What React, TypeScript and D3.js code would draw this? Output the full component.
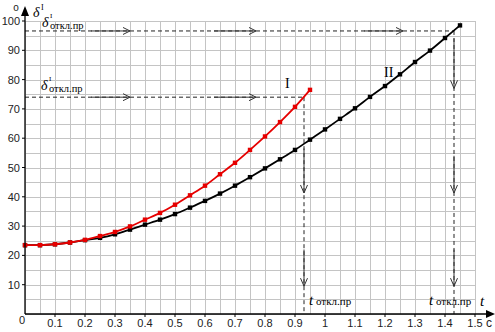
import React from "react";
import * as d3 from "d3";

// ---- data ----
const timeStep = 0.05;
const curveI: number[] = [23.5, 23.5, 23.8, 24.4, 25.3, 26.6, 28.0, 29.9, 32.2, 34.5, 37.3, 40.5, 43.8, 47.7, 51.6, 56.0, 60.6, 65.5, 70.7, 76.5];
const curveII: number[] = [23.5, 23.5, 23.8, 24.4, 25.2, 26.0, 27.2, 28.8, 30.5, 32.2, 34.1, 36.3, 38.6, 41.1, 43.8, 46.7, 49.7, 52.8, 56.0, 59.5, 63.0, 66.6, 70.2, 74.1, 77.8, 81.8, 86.0, 89.9, 94.2, 98.5];
const xTickValues: number[] = [0.1, 0.2, 0.3, 0.4, 0.5, 0.6, 0.7, 0.8, 0.9, 1.0, 1.1, 1.2, 1.3, 1.4, 1.5];
const xTickLabels: string[] = ["0.1", "0.2", "0.3", "0.4", "0.5", "0.6", "0.7", "0.8", "0.9", "1", "1.1", "1.2", "1.3", "1.4", "1.5"];
const yTickValues: number[] = [10, 20, 30, 40, 50, 60, 70, 80, 90, 100];
// switch-off points (t, delta)
const offTimes: number[] = [0.93, 1.43];
const offDeltas: number[] = [74, 96.6];
// arrow segments along horizontal dashed lines (t from, t to)
const hArrowsI: [number, number][] = [[0.22, 0.35], [0.63, 0.77]];
const hArrowsII: [number, number][] = [[0.22, 0.35], [0.63, 0.77], [1.13, 1.26]];
// arrow segments along vertical dashed lines (delta from, delta to)
const vArrowsI: [number, number][] = [[56.5, 41.3], [22, 9.5]];
const vArrowsII: [number, number][] = [[94, 77], [54, 41.3], [22, 9.5]];

export default function App() {
  const W = 495, H = 332;
  const x = d3.scaleLinear().domain([0, 1.5]).range([25, 475]);
  const y = d3.scaleLinear().domain([0, 100]).range([314, 21]);

  const gridX = d3.range(0, 1.5001, 0.05);
  const gridY = d3.range(0, 100.001, 5);

  const line = d3
    .line<number>()
    .x((_, i) => x(i * timeStep))
    .y((d) => y(d))
    .curve(d3.curveCatmullRom);

  const sans = "'Liberation Sans', Arial, sans-serif";
  const serif = "'Liberation Serif', 'Times New Roman', serif";

  const hArrow = (t0: number, t1: number, v: number, k: string) => {
    const x1 = x(t1), yy = y(v);
    return (
      <g key={k} stroke="#333" strokeWidth={1} fill="none">
        <line x1={x(t0)} y1={yy} x2={x1} y2={yy} />
        <path d={`M${x1 - 7},${yy - 3.5} L${x1},${yy} L${x1 - 7},${yy + 3.5}`} />
      </g>
    );
  };
  const vArrow = (t: number, v0: number, v1: number, k: string) => {
    const xx = x(t), y1 = y(v1);
    return (
      <g key={k} stroke="#333" strokeWidth={1} fill="none">
        <line x1={xx} y1={y(v0)} x2={xx} y2={y1} />
        <path d={`M${xx - 3.5},${y1 - 8} L${xx},${y1} L${xx + 3.5},${y1 - 8}`} />
      </g>
    );
  };

  const markers = (vals: number[], color: string, k: string) =>
    vals.map((v, i) => (
      <rect key={k + i} x={x(i * timeStep) - 2.2} y={y(v) - 2.2} width={4.4} height={4.4} fill={color} />
    ));

  const deltaLabel = (lx: number, ly: number, k: string) => (
    <g key={k}>
      <text x={lx} y={ly} fontFamily={serif} fontStyle="italic" fontSize={14} fill="#000">δ</text>
      <text x={lx + 8} y={ly - 9} fontFamily={serif} fontSize={7} fill="#000">I</text>
      <text x={lx + 8} y={ly + 2} fontFamily={serif} fontSize={10.5} fill="#000">откл.пр</text>
    </g>
  );
  const tLabel = (lx: number, ly: number, k: string) => (
    <g key={k}>
      <text x={lx} y={ly} fontFamily={serif} fontStyle="italic" fontSize={15} fill="#000">t</text>
      <text x={lx + 7} y={ly} fontFamily={serif} fontSize={11} fill="#000">откл.пр</text>
    </g>
  );

  return (
    <svg width={W} height={H} style={{ position: "absolute", left: 0, top: 0, background: "#fff" }}>
      <rect x={0} y={0} width={W} height={H} fill="#fff" />
      {/* grid */}
      <g stroke="#c4c4c4" strokeWidth={1}>
        {gridX.map((t, i) => (
          <line key={"gx" + i} x1={Math.round(x(t)) + 0.5} y1={y(100)} x2={Math.round(x(t)) + 0.5} y2={y(0)} />
        ))}
        {gridY.map((v, i) => (
          <line key={"gy" + i} x1={x(0)} y1={Math.round(y(v)) + 0.5} x2={x(1.5)} y2={Math.round(y(v)) + 0.5} />
        ))}
      </g>

      {/* dashed guide lines */}
      <g stroke="#222" strokeWidth={1} strokeDasharray="4,3" fill="none">
        {offTimes.map((t, i) => (
          <g key={"dg" + i}>
            <line x1={x(0)} y1={y(offDeltas[i])} x2={x(t)} y2={y(offDeltas[i])} />
            <line x1={x(t)} y1={y(offDeltas[i])} x2={x(t)} y2={y(0)} />
          </g>
        ))}
      </g>
      {hArrowsI.map((a, i) => hArrow(a[0], a[1], offDeltas[0], "haI" + i))}
      {hArrowsII.map((a, i) => hArrow(a[0], a[1], offDeltas[1], "haII" + i))}
      {vArrowsI.map((a, i) => vArrow(offTimes[0], a[0], a[1], "vaI" + i))}
      {vArrowsII.map((a, i) => vArrow(offTimes[1], a[0], a[1], "vaII" + i))}

      {/* curves */}
      <path d={line(curveII) || ""} fill="none" stroke="#000" strokeWidth={1.8} />
      {markers(curveII, "#000", "mII")}
      <path d={line(curveI) || ""} fill="none" stroke="#e60000" strokeWidth={1.8} />
      {markers(curveI, "#e60000", "mI")}

      {/* axes */}
      <g stroke="#000" strokeWidth={1.3}>
        <line x1={x(0)} y1={y(0)} x2={488} y2={y(0)} />
        <line x1={x(0)} y1={y(0)} x2={x(0)} y2={14} />
      </g>
      <path d={`M${x(0) - 4},16 L${x(0)},6 L${x(0) + 4},16 Z`} fill="#000" />
      <path d={`M486,${y(0) - 4} L495,${y(0)} L486,${y(0) + 4} Z`} fill="#000" />
      <g stroke="#000" strokeWidth={1}>
        {xTickValues.map((t, i) => (
          <line key={"xt" + i} x1={x(t)} y1={y(0)} x2={x(t)} y2={y(0) + 3} />
        ))}
        {yTickValues.map((v, i) => (
          <line key={"yt" + i} x1={x(0) - 3} y1={y(v)} x2={x(0)} y2={y(v)} />
        ))}
      </g>
      <g fontFamily={sans} fontSize={11} fill="#222">
        {xTickValues.map((t, i) => (
          <text key={"xl" + i} x={x(t)} y={327} textAnchor="middle">{xTickLabels[i]}</text>
        ))}
        {yTickValues.map((v, i) => (
          <text key={"yl" + i} x={20} y={y(v) + 4} textAnchor="end">{v}</text>
        ))}
        <text x={22} y={324} textAnchor="middle">0</text>
        <text x={489} y={327} textAnchor="middle" fontSize={12}>c</text>
        <text x={16} y={11} textAnchor="middle" fontSize={10}>o</text>
      </g>
      {/* axis titles */}
      <text x={33} y={17} fontFamily={serif} fontStyle="italic" fontSize={14} fill="#000">δ</text>
      <text x={41} y={10} fontFamily={serif} fontSize={8} fill="#000">I</text>
      <text x={480} y={306} fontFamily={serif} fontStyle="italic" fontSize={15} fill="#000">t</text>

      {deltaLabel(x(0) + 17, 27, "dl2")}
      {deltaLabel(x(0) + 16, 90, "dl1")}
      {tLabel(x(offTimes[0]) + 5, 305, "tl1")}
      {tLabel(x(offTimes[1]) - 25, 305, "tl2")}

      <text x={285} y={88} fontFamily={serif} fontSize={14} fill="#000">I</text>
      <text x={384} y={77} fontFamily={serif} fontSize={14} fill="#000">II</text>
    </svg>
  );
}
